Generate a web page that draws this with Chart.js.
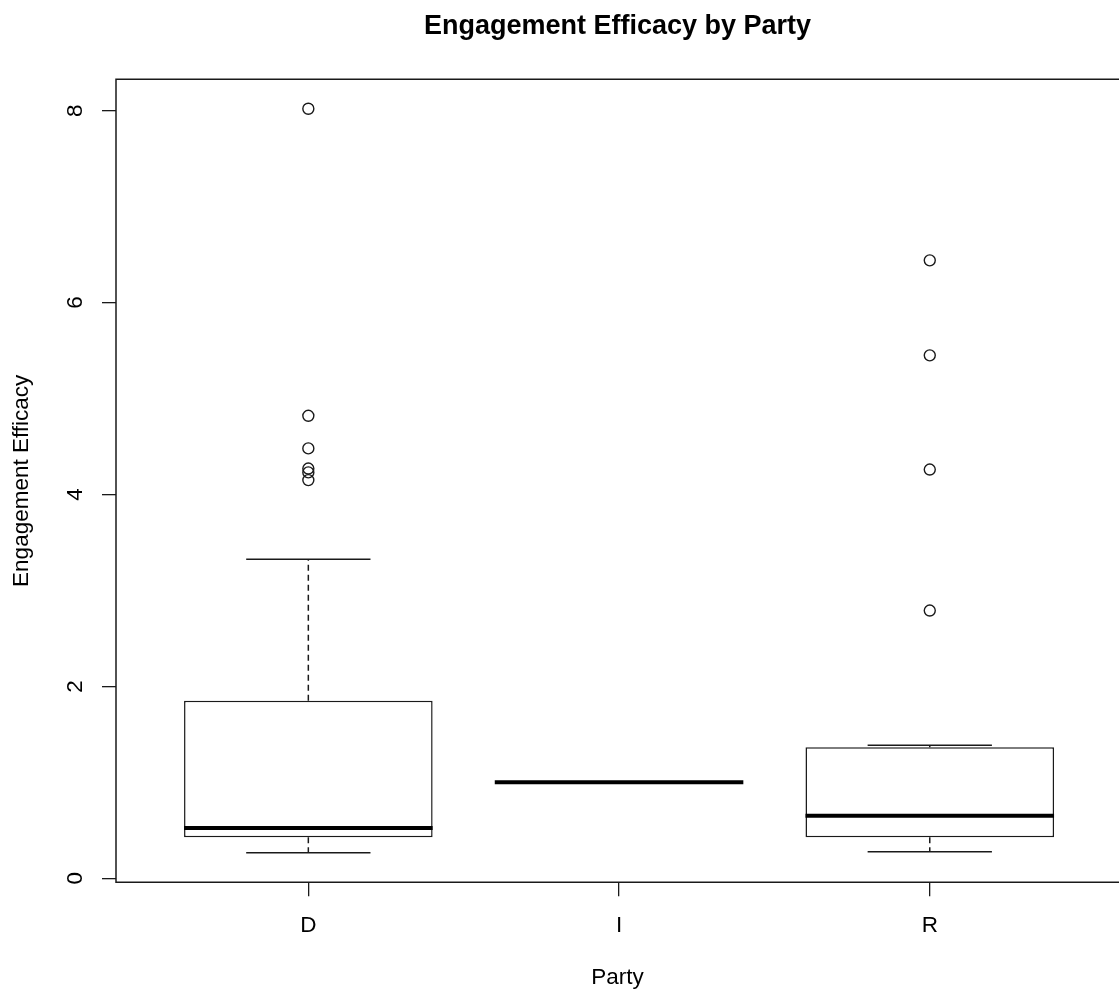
<!DOCTYPE html>
<html>
<head>
<meta charset="utf-8">
<title>Engagement Efficacy by Party</title>
<script src="https://cdn.jsdelivr.net/npm/chart.js@4/dist/chart.umd.min.js"></script>
<style>
  html, body { margin: 0; padding: 0; overflow: hidden; background: #fff; }
  canvas { display: block; }
</style>
</head>
<body>
<canvas id="chart" width="1119" height="994"></canvas>
<script>
// Five-number summaries per party (boxplot statistics)
const categories   = ['D', 'I', 'R'];
const lowerWhisker = [0.267, 1.0, 0.277];
const q1           = [0.427, 1.0, 0.427];
const median       = [0.524, 1.0, 0.652];
const q3           = [1.849, 1.0, 1.365];
const upperWhisker = [3.325, 1.0, 1.386];

// Points beyond the whiskers
const outliersD = [8.02, 4.82, 4.48, 4.27, 4.23, 4.15];
const outliersI = [];
const outliersR = [6.44, 5.45, 4.26, 2.79];
const outliers  = [outliersD, outliersI, outliersR];

const yTicks = [0, 2, 4, 6, 8];

// Drawing constants
const FONT = "'Liberation Sans', Arial, Helvetica, sans-serif";
const INK = '#1a1a1a';
const BOX_HALF = 0.4;     // half box width, in category units
const CAP_HALF = 0.2;     // half whisker-cap width

// Turn [x0, y0, x1, y1] pairs into line data broken by gaps
function segments(list) {
  const out = [];
  list.forEach(([x0, y0, x1, y1]) => {
    out.push({ x: x0, y: y0 }, { x: x1, y: y1 }, { x: x1, y: null });
  });
  return out;
}

const pos = categories.map((_, i) => i + 1);

const boxData = pos.map((x, i) => ({ x, y: [q1[i], q3[i]] }));
const medianData = segments(pos.map((x, i) => [x - BOX_HALF, median[i], x + BOX_HALF, median[i]]));
const whiskerData = segments(pos.flatMap((x, i) => [
  [x, q3[i], x, upperWhisker[i]],
  [x, q1[i], x, lowerWhisker[i]]
]));
const capData = segments(pos.flatMap((x, i) => [
  [x - CAP_HALF, upperWhisker[i], x + CAP_HALF, upperWhisker[i]],
  [x - CAP_HALF, lowerWhisker[i], x + CAP_HALF, lowerWhisker[i]]
]));
const outlierData = pos.flatMap((x, i) => outliers[i].map(v => ({ x, y: v })));

// Plot frame: left, top and bottom edges (the right edge lies past the canvas)
const framePlugin = {
  id: 'frame',
  afterDatasetsDraw(chart) {
    const { ctx, chartArea: a, width } = chart;
    ctx.save();
    ctx.strokeStyle = INK;
    ctx.lineWidth = 1.5;
    ctx.beginPath();
    ctx.moveTo(width, a.top);
    ctx.lineTo(a.left, a.top);
    ctx.lineTo(a.left, a.bottom);
    ctx.lineTo(width, a.bottom);
    ctx.stroke();
    ctx.restore();
  }
};

// Keep axis label overhang from shrinking the plot area
function noEdgePadding(s) {
  s.paddingLeft = 0;
  s.paddingRight = 0;
  s.paddingTop = 0;
  s.paddingBottom = 0;
}

const lineCommon = {
  type: 'line',
  borderColor: INK,
  pointRadius: 0,
  spanGaps: false,
  fill: false,
  tension: 0,
  borderCapStyle: 'butt'
};

new Chart(document.getElementById('chart'), {
  type: 'bar',
  data: {
    datasets: [
      {
        type: 'bar',
        data: boxData,
        backgroundColor: '#ffffff',
        borderColor: INK,
        borderWidth: 1.5,
        borderSkipped: false,
        barPercentage: 2 * BOX_HALF,
        categoryPercentage: 1,
        order: 4
      },
      Object.assign({}, lineCommon, { data: whiskerData, borderWidth: 1.5, borderDash: [6, 4], order: 3 }),
      Object.assign({}, lineCommon, { data: capData, borderWidth: 1.5, order: 2 }),
      Object.assign({}, lineCommon, { data: medianData, borderWidth: 4, borderColor: '#000', order: 1 }),
      {
        type: 'scatter',
        data: outlierData,
        pointStyle: 'circle',
        pointRadius: 5.5,
        pointHoverRadius: 5.5,
        pointBorderWidth: 1.4,
        pointBorderColor: INK,
        pointBackgroundColor: 'rgba(0,0,0,0)',
        order: 0
      }
    ]
  },
  options: {
    responsive: false,
    animation: false,
    events: [],
    layout: { autoPadding: false, padding: { left: 0, right: 0, top: 0, bottom: 0 } },
    plugins: {
      legend: { display: false },
      tooltip: { enabled: false },
      title: {
        display: true,
        text: 'Engagement Efficacy by Party',
        fullSize: false,
        color: '#000',
        font: { family: FONT, size: 27, weight: 'bold' },
        padding: { top: 10, bottom: 36.9 }
      }
    },
    scales: {
      x: {
        type: 'linear',
        min: 0.381,
        max: 3.609,
        offset: false,
        afterBuildTicks: s => { s.ticks = pos.map(v => ({ value: v })); },
        afterFit: s => { s.height = 111.7; noEdgePadding(s); },
        ticks: {
          autoSkip: false,
          maxRotation: 0,
          padding: 15.7,
          color: '#000',
          font: { family: FONT, size: 22.5 },
          callback: v => categories[v - 1]
        },
        grid: { offset: false, drawOnChartArea: false, drawTicks: true, tickLength: 14, color: INK, lineWidth: 1.3 },
        border: { display: false },
        title: {
          display: true,
          text: 'Party',
          color: '#000',
          font: { family: FONT, size: 22.5 },
          padding: { top: 0, bottom: 2.5 }
        }
      },
      y: {
        type: 'linear',
        min: -0.042,
        max: 8.327,
        afterBuildTicks: s => { s.ticks = yTicks.map(v => ({ value: v })); },
        afterFit: s => { s.width = 116; noEdgePadding(s); },
        ticks: {
          minRotation: 90,
          maxRotation: 90,
          crossAlign: 'center',
          padding: 20.2,
          color: '#000',
          font: { family: FONT, size: 22.5 },
          callback: v => String(v)
        },
        grid: { drawOnChartArea: false, drawTicks: true, tickLength: 14, color: INK, lineWidth: 1.3 },
        border: { display: false },
        title: {
          display: true,
          text: 'Engagement Efficacy',
          color: '#000',
          font: { family: FONT, size: 22.5 },
          padding: { top: 8.5, bottom: 0 }
        }
      }
    }
  },
  plugins: [framePlugin]
});
</script>
</body>
</html>
